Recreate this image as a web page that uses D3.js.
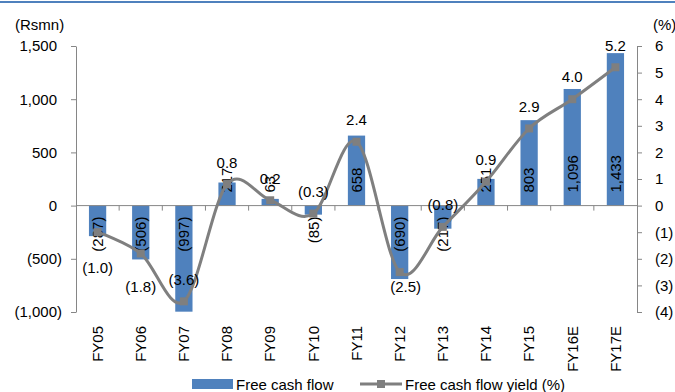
<!DOCTYPE html>
<html>
<head>
<meta charset="utf-8">
<script src="https://cdn.jsdelivr.net/npm/d3@7/dist/d3.min.js"></script>
<style>
  html, body { margin: 0; padding: 0; background: #fff; }
  svg { display: block; font-family: "Liberation Sans", Arial, sans-serif; }
</style>
</head>
<body>
<svg id="chart" width="675" height="392"></svg>
<script>
// Fiscal years on the category axis
const years = ["FY05","FY06","FY07","FY08","FY09","FY10","FY11","FY12","FY13","FY14","FY15","FY16E","FY17E"];
// Free cash flow, Rs mn (bars, left axis)
const freeCashFlow = [-287, -506, -997, 217, 63, -85, 658, -690, -217, 251, 803, 1096, 1433];
// Free cash flow yield, % (line, right axis)
const fcfYield = [-1.0, -1.8, -3.6, 0.8, 0.2, -0.3, 2.4, -2.5, -0.8, 0.9, 2.9, 4.0, 5.2];
// Axis ticks
const leftTicks = [-1000, -500, 0, 500, 1000, 1500];
const rightTicks = [-4, -3, -2, -1, 0, 1, 2, 3, 4, 5, 6];
const seriesNames = ["Free cash flow", "Free cash flow yield (%)"];

const BLUE = "#4F81BD", GREY = "#7F7F7F", AXIS = "#868686";
const svg = d3.select("#chart");

// top rule
svg.append("rect").attr("x", 0).attr("y", 1).attr("width", 675).attr("height", 2).attr("fill", BLUE);

const plotL = 76, plotR = 637, plotT = 46, plotB = 312;
const x = d3.scaleBand().domain(years).range([plotL, plotR]).paddingInner(0.6).paddingOuter(0.3);
const yL = d3.scaleLinear().domain([-1000, 1500]).range([plotB, plotT]);
const yR = d3.scaleLinear().domain([-4, 6]).range([plotB, plotT]);

const fmtNum = v => v < 0 ? "(" + d3.format(",")(-v) + ")" : d3.format(",")(v);
const fmtPct = v => v < 0 ? "(" + d3.format(".1f")(-v) + ")" : d3.format(".1f")(v);
const fmtInt = v => v < 0 ? "(" + (-v) + ")" : String(v);

// left axis
const gL = svg.append("g").attr("transform", `translate(${plotL},0)`)
  .call(d3.axisLeft(yL).tickValues(leftTicks).tickSize(5).tickSizeOuter(0).tickFormat(fmtNum));
gL.selectAll("path, line").attr("stroke", AXIS);
gL.selectAll("text").attr("font-size", 15).attr("fill", "#000").attr("font-family", "Liberation Sans, Arial, sans-serif")
  .attr("x", d => d < 0 ? -14 : -19);

// right axis
const gR = svg.append("g").attr("transform", `translate(${plotR},0)`)
  .call(d3.axisRight(yR).tickValues(rightTicks).tickSize(5).tickSizeOuter(0).tickFormat(fmtInt));
gR.selectAll("path, line").attr("stroke", AXIS);
gR.selectAll("text").attr("font-size", 15).attr("fill", "#000").attr("font-family", "Liberation Sans, Arial, sans-serif")
  .attr("x", 18);

// axis units
svg.append("text").attr("x", 15).attr("y", 30).attr("font-size", 15).text("(Rsmn)");
svg.append("text").attr("x", 653).attr("y", 30).attr("font-size", 15).text("(%)");

// bars
const zero = yL(0);
svg.append("g").selectAll("rect").data(years).join("rect")
  .attr("x", d => x(d))
  .attr("width", x.bandwidth())
  .attr("y", (d, i) => Math.min(yL(freeCashFlow[i]), zero))
  .attr("height", (d, i) => Math.abs(yL(freeCashFlow[i]) - zero))
  .attr("fill", BLUE);

// category axis along zero
const gap = (x.step() - x.bandwidth()) / 2;
svg.append("line").attr("x1", plotL).attr("x2", plotR).attr("y1", zero).attr("y2", zero).attr("stroke", AXIS);
svg.append("g").selectAll("line").data(years.slice(1)).join("line")
  .attr("x1", d => x(d) - gap).attr("x2", d => x(d) - gap)
  .attr("y1", zero).attr("y2", zero + 5).attr("stroke", AXIS);

// category labels
svg.append("g").selectAll("text").data(years).join("text")
  .attr("transform", d => `translate(${x(d) + x.bandwidth() / 2},326) rotate(-90)`)
  .attr("text-anchor", "end").attr("dy", "0.35em").attr("font-size", 15).text(d => d);

// bar value labels, rotated, just inside the base
svg.append("g").selectAll("text").data(years).join("text")
  .attr("transform", (d, i) => `translate(${x(d) + x.bandwidth() / 2},${freeCashFlow[i] < 0 ? zero + 11 : zero - 13}) rotate(-90)`)
  .attr("text-anchor", (d, i) => freeCashFlow[i] < 0 ? "end" : "start")
  .attr("dy", "0.35em").attr("font-size", 15).text((d, i) => fmtNum(freeCashFlow[i]));

// yield line
const pts = years.map((d, i) => [x(d) + x.bandwidth() / 2, yR(fcfYield[i])]);
svg.append("path").attr("d", d3.line().curve(d3.curveCardinal.tension(0))(pts))
  .attr("fill", "none").attr("stroke", GREY).attr("stroke-width", 3);
svg.append("g").selectAll("rect").data(pts).join("rect")
  .attr("x", p => p[0] - 4).attr("y", p => p[1] - 4).attr("width", 8).attr("height", 8).attr("fill", GREY);

// yield labels: above the point, a few placed beneath
const belowOffset = { FY05: 36, FY06: 33, FY12: 15 };
svg.append("g").selectAll("text").data(years).join("text")
  .attr("x", (d, i) => pts[i][0] + (d === "FY12" ? 6 : 0))
  .attr("y", (d, i) => pts[i][1] + (belowOffset[d] !== undefined ? belowOffset[d] : -22))
  .attr("dy", "0.35em").attr("text-anchor", "middle").attr("font-size", 15)
  .text((d, i) => fmtPct(fcfYield[i]));

// legend
const lg = svg.append("g");
lg.append("rect").attr("x", 192).attr("y", 379).attr("width", 41).attr("height", 10).attr("fill", BLUE);
lg.append("text").attr("x", 236).attr("y", 390).attr("font-size", 15).text(seriesNames[0]);
lg.append("line").attr("x1", 360).attr("x2", 402).attr("y1", 384).attr("y2", 384).attr("stroke", GREY).attr("stroke-width", 3);
lg.append("rect").attr("x", 377).attr("y", 380).attr("width", 8).attr("height", 8).attr("fill", GREY);
lg.append("text").attr("x", 405).attr("y", 390).attr("font-size", 15).text(seriesNames[1]);
</script>
</body>
</html>
